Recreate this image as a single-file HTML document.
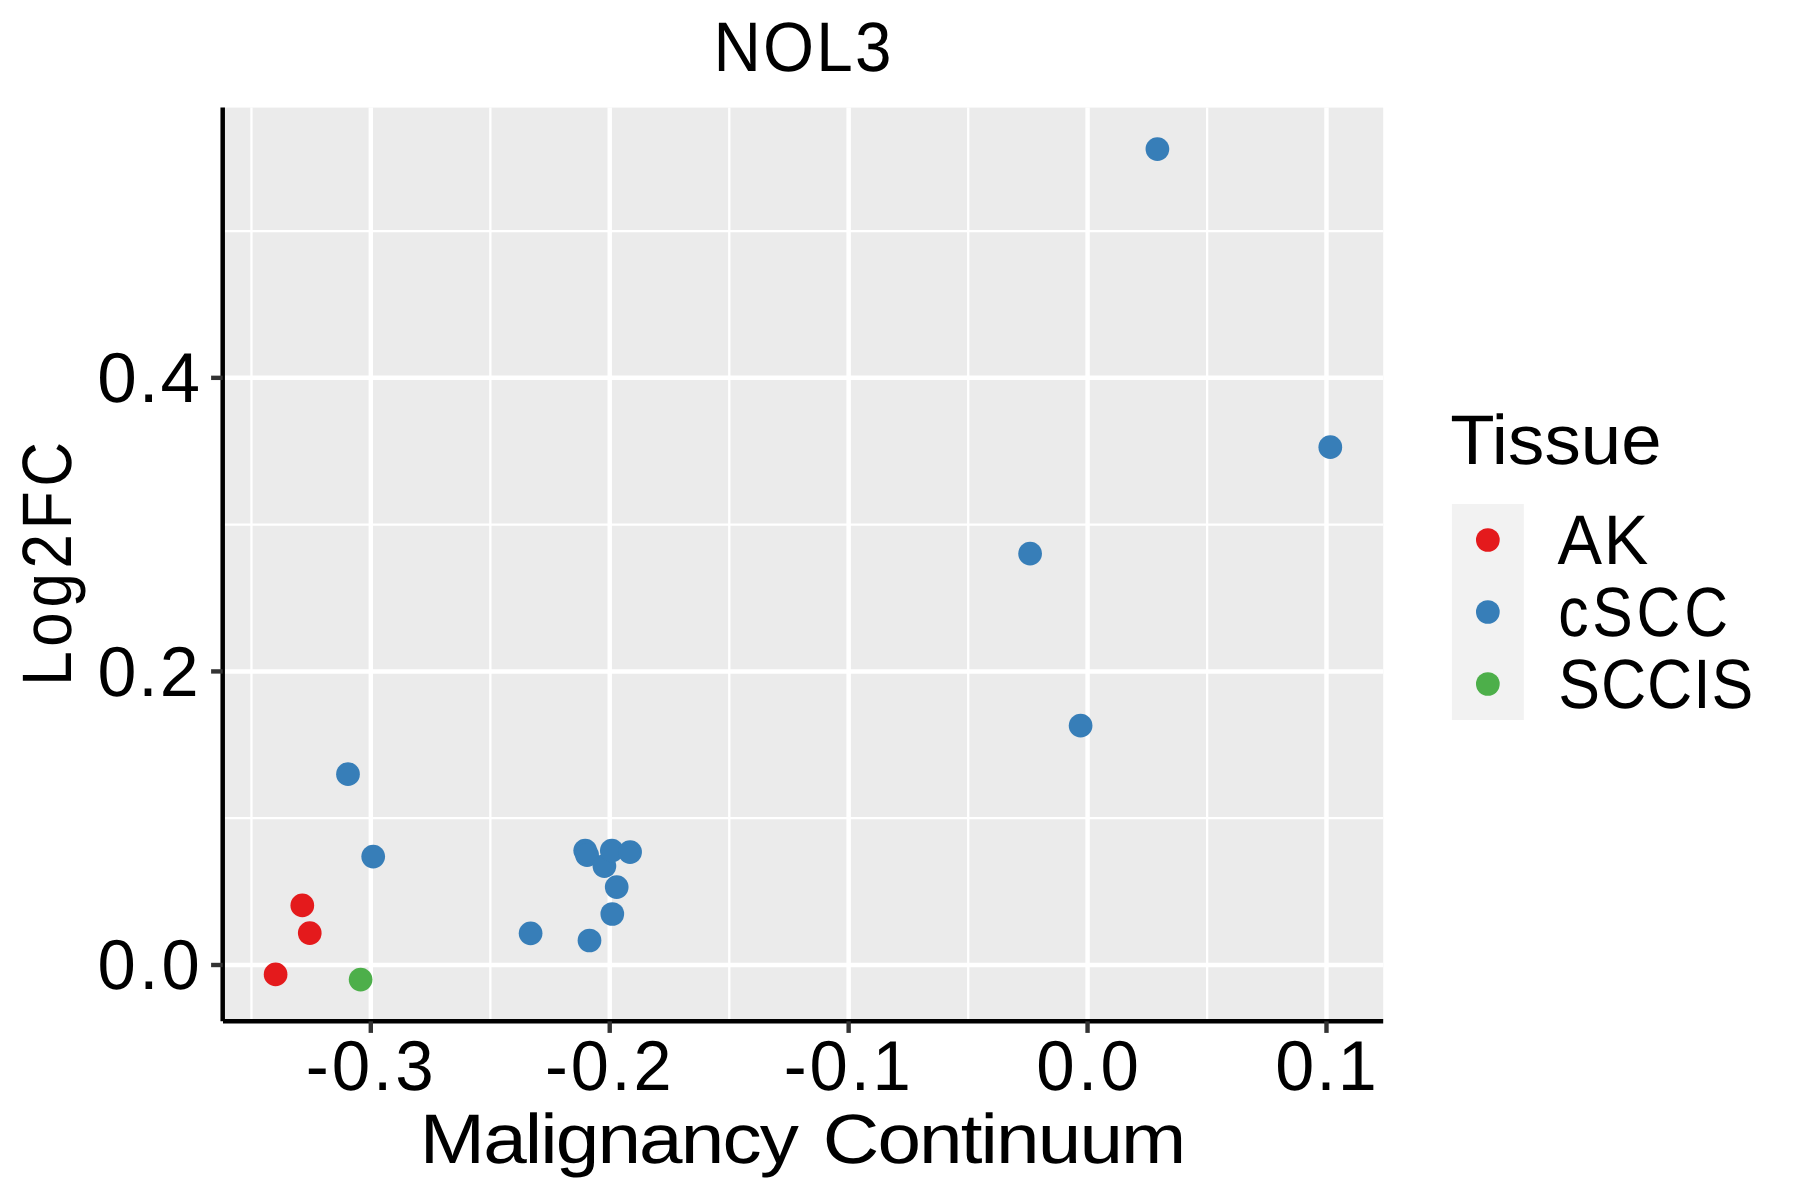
<!DOCTYPE html>
<html lang="en">
<head>
<meta charset="utf-8">
<title>NOL3</title>
<style>
html,body{margin:0;padding:0;background:#FFFFFF;}
body{width:1800px;height:1200px;position:relative;overflow:hidden;font-family:"Liberation Sans",sans-serif;color:#000000;}
svg.chart{position:absolute;left:0;top:0;display:block;}
.t{text-rendering:geometricPrecision;position:absolute;left:0;top:0;width:0;height:0;transform-origin:0 0;white-space:nowrap;line-height:0;}
.t span{position:absolute;left:0;top:0;display:block;line-height:0;white-space:nowrap;}
</style>
</head>
<body>
<svg class="chart" width="1800" height="1200" viewBox="0 0 1800 1200">
<rect class="panel" x="223" y="107.6" width="1160.2" height="913.2" fill="#EBEBEB"/>
<g class="grid-minor" stroke="#FFFFFF" stroke-width="2.3" fill="none">
<line x1="223" x2="1383.2" y1="818.21" y2="818.21"/>
<line x1="223" x2="1383.2" y1="524.63" y2="524.63"/>
<line x1="223" x2="1383.2" y1="231.05" y2="231.05"/>
<line x1="251.44" x2="251.44" y1="107.6" y2="1020.8"/>
<line x1="490.36" x2="490.36" y1="107.6" y2="1020.8"/>
<line x1="729.28" x2="729.28" y1="107.6" y2="1020.8"/>
<line x1="968.2" x2="968.2" y1="107.6" y2="1020.8"/>
<line x1="1207.12" x2="1207.12" y1="107.6" y2="1020.8"/>
</g>
<g class="grid-major" stroke="#FFFFFF" stroke-width="4.45" fill="none">
<line x1="223" x2="1383.2" y1="965" y2="965"/>
<line x1="223" x2="1383.2" y1="671.42" y2="671.42"/>
<line x1="223" x2="1383.2" y1="377.84" y2="377.84"/>
<line x1="370.8" x2="370.8" y1="107.6" y2="1020.8"/>
<line x1="609.72" x2="609.72" y1="107.6" y2="1020.8"/>
<line x1="848.64" x2="848.64" y1="107.6" y2="1020.8"/>
<line x1="1087.56" x2="1087.56" y1="107.6" y2="1020.8"/>
<line x1="1326.48" x2="1326.48" y1="107.6" y2="1020.8"/>
</g>
<g class="points">
<circle cx="275.6" cy="974.4" r="11.85" fill="#E41A1C"/>
<circle cx="302.3" cy="905.4" r="11.85" fill="#E41A1C"/>
<circle cx="309.75" cy="933.05" r="11.85" fill="#E41A1C"/>
<circle cx="360.6" cy="979.6" r="11.85" fill="#4DAF4A"/>
<circle cx="348" cy="774.2" r="11.85" fill="#377EB8"/>
<circle cx="373.2" cy="856.6" r="11.85" fill="#377EB8"/>
<circle cx="530.6" cy="933.3" r="11.85" fill="#377EB8"/>
<circle cx="589.5" cy="940.5" r="11.85" fill="#377EB8"/>
<circle cx="585.2" cy="850.6" r="11.85" fill="#377EB8"/>
<circle cx="587.1" cy="855.2" r="11.85" fill="#377EB8"/>
<circle cx="604.4" cy="866.1" r="11.85" fill="#377EB8"/>
<circle cx="611.8" cy="850.7" r="11.85" fill="#377EB8"/>
<circle cx="630.1" cy="852.1" r="11.85" fill="#377EB8"/>
<circle cx="616.7" cy="887.1" r="11.85" fill="#377EB8"/>
<circle cx="612.3" cy="914" r="11.85" fill="#377EB8"/>
<circle cx="1030.1" cy="553.7" r="11.85" fill="#377EB8"/>
<circle cx="1080.6" cy="725.7" r="11.85" fill="#377EB8"/>
<circle cx="1157.4" cy="149.1" r="11.85" fill="#377EB8"/>
<circle cx="1330.3" cy="447.2" r="11.85" fill="#377EB8"/>
</g>
<g class="axis-lines" stroke="#000000" stroke-width="4.5" fill="none">
<line x1="222.7" x2="222.7" y1="107.6" y2="1021.3"/>
<line x1="223" x2="1383.2" y1="1021.3" y2="1021.3"/>
</g>
<g class="ticks" stroke="#333333" stroke-width="4.4" fill="none">
<line x1="211.1" x2="222.7" y1="965" y2="965"/>
<line x1="211.1" x2="222.7" y1="671.42" y2="671.42"/>
<line x1="211.1" x2="222.7" y1="377.84" y2="377.84"/>
<line x1="370.8" x2="370.8" y1="1021.3" y2="1032.9"/>
<line x1="609.72" x2="609.72" y1="1021.3" y2="1032.9"/>
<line x1="848.64" x2="848.64" y1="1021.3" y2="1032.9"/>
<line x1="1087.56" x2="1087.56" y1="1021.3" y2="1032.9"/>
<line x1="1326.48" x2="1326.48" y1="1021.3" y2="1032.9"/>
</g>
<g class="legend">
<rect x="1451.9" y="504" width="71.9" height="216" fill="#F2F2F2"/>
<circle cx="1487.85" cy="540" r="11.85" fill="#E41A1C"/>
<circle cx="1487.85" cy="612" r="11.85" fill="#377EB8"/>
<circle cx="1487.85" cy="684" r="11.85" fill="#4DAF4A"/>
</g>
</svg>
<div class="t" id="title" style="transform:translate(803.1px,70.9px) translate(0.5px,-24px) scale(0.9376,1.0000);font-size:70px;letter-spacing:2.3px"><span style="transform:translate(-50%,0)">NOL3</span></div>
<div class="t" id="xt0" style="transform:translate(370.8px,1089.8px) translate(0.35px,-24px) scale(0.9800,1.0000);font-size:70.5px;letter-spacing:2.97px"><span style="transform:translate(-50%,0)">-0.3</span></div>
<div class="t" id="xt1" style="transform:translate(609.72px,1089.8px) translate(0.01px,-24px) scale(0.9717,1.0000);font-size:70.5px;letter-spacing:2.9px"><span style="transform:translate(-50%,0)">-0.2</span></div>
<div class="t" id="xt2" style="transform:translate(848.64px,1089.8px) translate(0.09px,-24px) scale(0.9766,1.0000);font-size:70.5px;letter-spacing:2.87px"><span style="transform:translate(-50%,0)">-0.1</span></div>
<div class="t" id="xt3" style="transform:translate(1087.56px,1089.8px) translate(1.72px,-24px) scale(0.9797,1.0000);font-size:70.5px;letter-spacing:3.48px"><span style="transform:translate(-50%,0)">0.0</span></div>
<div class="t" id="xt4" style="transform:translate(1326.48px,1089.8px) translate(0.47px,-24px) scale(0.9952,1.0000);font-size:70.5px;letter-spacing:2.01px"><span style="transform:translate(-50%,0)">0.1</span></div>
<div class="t" id="yt0" style="transform:translate(201.7px,989.2px) translate(1.47px,-24px) scale(0.9756,1.0000);font-size:70.5px;letter-spacing:3.39px"><span style="transform:translate(-100%,0)">0.0</span></div>
<div class="t" id="yt1" style="transform:translate(201.7px,695.62px) translate(-1.18px,-24px) scale(0.9923,1.0000);font-size:70.5px;letter-spacing:1.91px"><span style="transform:translate(-100%,0)">0.2</span></div>
<div class="t" id="yt2" style="transform:translate(201.7px,402.04px) translate(0.12px,-24px) scale(1.0075,1.0000);font-size:70.5px;letter-spacing:1.9px"><span style="transform:translate(-100%,0)">0.4</span></div>
<div class="t" id="xlab" style="transform:translate(803.1px,1163.3px) translate(-1px,-24px) scale(1.1180,1.0000);font-size:70px;letter-spacing:-1.68px;word-spacing:5.37px"><span style="transform:translate(-50%,0)">Malignancy Continuum</span></div>
<div class="t" id="ylab" style="transform:translate(71.25px,564.2px) rotate(-90deg) translate(2.59px,-24px) scale(0.8854,1.0000);font-size:70px;letter-spacing:5.26px"><span style="transform:translate(-50%,0)">Log2FC</span></div>
<div class="t" id="ltitle" style="transform:translate(1451.9px,463.8px) translate(-1.73px,-24px) scale(1.0371,1.0000);font-size:70px;letter-spacing:0.05px"><span style="transform:translate(0,0)">Tissue</span></div>
<div class="t" id="l0" style="transform:translate(1557px,564.2px) translate(0.49px,-24px) scale(0.9541,1.0000);font-size:70px;letter-spacing:1.78px"><span style="transform:translate(0,0)">AK</span></div>
<div class="t" id="l1" style="transform:translate(1557px,636.2px) translate(1.15px,-24px) scale(0.8663,1.0000);font-size:70px;letter-spacing:4.43px"><span style="transform:translate(0,0)">cSCC</span></div>
<div class="t" id="l2" style="transform:translate(1557px,708.2px) translate(1.19px,-24px) scale(0.8948,1.0000);font-size:70px;letter-spacing:1.04px"><span style="transform:translate(0,0)">SCCIS</span></div>
</body>
</html>
